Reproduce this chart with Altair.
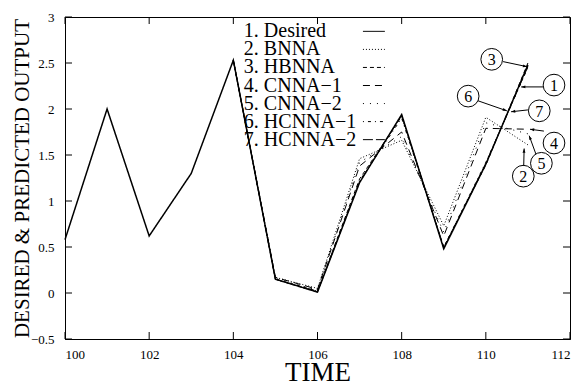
import altair as alt
import pandas as pd

FONT = "Liberation Serif"

time_all = list(range(100, 112))
desired = [0.58, 2.0, 0.62, 1.3, 2.53, 0.15, 0.01, 1.2, 1.94, 0.48, 1.4, 2.48]

time_pred = list(range(104, 112))
bnna = [2.53, 0.17, 0.05, 1.46, 1.66, 0.73, 1.91, 1.61]
hbnna = [2.53, 0.15, 0.02, 1.24, 1.92, 0.50, 1.39, 2.50]
cnna1 = [2.53, 0.17, 0.04, 1.38, 1.75, 0.62, 1.79, 1.78]
cnna2 = [2.53, 0.16, 0.03, 1.42, 1.70, 0.66, 1.85, 1.73]
hcnna1 = [2.53, 0.15, 0.02, 1.22, 1.90, 0.50, 1.42, 2.45]
hcnna2 = [2.53, 0.15, 0.01, 1.21, 1.93, 0.49, 1.41, 2.46]

series_names = ["1. Desired", "2. BNNA", "3. HBNNA", "4. CNNA\u22121",
                "5. CNNA\u22122", "6. HCNNA\u22121", "7. HCNNA\u22122"]
dash_patterns = [[1, 0], [1, 2], [4, 3], [7, 5], [1, 6], [1, 4, 3, 4], [10, 3]]

x_ticks = [100, 102, 104, 106, 108, 110, 112]
y_ticks = [-0.5, 0, 0.5, 1, 1.5, 2, 2.5, 3]

# circled annotation labels (data coordinates)
ann_ids = ["1", "2", "3", "4", "5", "6", "7"]
ann_x = [111.62, 110.89, 110.14, 111.62, 111.32, 109.58, 111.27]
ann_y = [2.26, 1.27, 2.54, 1.63, 1.41, 2.14, 1.98]
# arrows: start -> end (data coordinates), angle of arrowhead (degrees)
arr_x1 = [111.36, 110.90, 110.41, 111.38, 111.19, 109.81, 111.00]
arr_y1 = [2.24, 1.38, 2.515, 1.76, 1.51, 2.09, 1.99]
arr_x2 = [110.84, 110.91, 110.98, 111.05, 111.03, 110.50, 110.60]
arr_y2 = [2.24, 1.57, 2.46, 1.78, 1.71, 1.98, 1.97]
arr_angle = [269, 2, 102, 276, 339, 109, 263]

W, H = 505, 322
xs = alt.Scale(domain=[100, 112], nice=False, zero=False)
ys = alt.Scale(domain=[-0.5, 3], nice=False, zero=False)

pred_rows = []
for name, vals in zip(series_names[1:], [bnna, hbnna, cnna1, cnna2, hcnna1, hcnna2]):
    for t, v in zip(time_pred, vals):
        pred_rows.append({"time": t, "value": v, "series": name})
pred_df = pd.DataFrame(pred_rows)
des_df = pd.DataFrame({"time": time_all, "value": desired, "series": series_names[0]})

dash = alt.StrokeDash("series:N", scale=alt.Scale(domain=series_names, range=dash_patterns), legend=None)

xaxis = alt.Axis(values=x_ticks, ticks=False, grid=False, title="TIME", labelPadding=9,
                 labelFont=FONT, titleFont=FONT,
                 titleFontSize=27, titleY=41, titleBaseline="alphabetic", labelFontSize=13)
yaxis = alt.Axis(values=y_ticks, ticks=False, grid=False, format="~g",
                 labelFont=FONT, titleFont=FONT,
                 title="DESIRED & PREDICTED OUTPUT", labelPadding=11,
                 titleFontSize=21, titleX=-43, titleY=H / 2,
                 titleBaseline="middle", titleAlign="center", labelFontSize=13)

pred = alt.Chart(pred_df).mark_line(color="black", strokeWidth=1).encode(
    x=alt.X("time:Q", scale=xs, axis=xaxis),
    y=alt.Y("value:Q", scale=ys, axis=yaxis),
    strokeDash=dash,
    detail="series:N",
)
des = alt.Chart(des_df).mark_line(color="black", strokeWidth=1.5).encode(
    x=alt.X("time:Q", scale=xs), y=alt.Y("value:Q", scale=ys), strokeDash=dash
)

# inward ticks
xt = pd.DataFrame({"t": x_ticks})
yt = pd.DataFrame({"t": y_ticks})
tick_b = alt.Chart(xt).mark_rule(color="black").encode(
    x=alt.X("t:Q", scale=xs), y=alt.value(H), y2=alt.value(H - 7))
tick_t = alt.Chart(xt).mark_rule(color="black").encode(
    x=alt.X("t:Q", scale=xs), y=alt.value(0), y2=alt.value(7))
tick_l = alt.Chart(yt).mark_rule(color="black").encode(
    y=alt.Y("t:Q", scale=ys), x=alt.value(0), x2=alt.value(7))
tick_r = alt.Chart(yt).mark_rule(color="black").encode(
    y=alt.Y("t:Q", scale=ys), x=alt.value(W), x2=alt.value(W - 7))

# legend (inside plot)
leg_df = pd.DataFrame({"series": series_names, "idx": list(range(len(series_names)))})
leg_base = alt.Chart(leg_df).transform_calculate(
    ly="2.844 - 0.1962 * datum.idx", tx="104.25", sx1="107.08", sx2="107.6")
leg_text = leg_base.mark_text(align="left", baseline="middle", font=FONT, fontSize=20,
                              color="black").encode(
    x=alt.X("tx:Q", scale=xs), y=alt.Y("ly:Q", scale=ys), text="series:N")
leg_line = leg_base.mark_rule(color="black", strokeWidth=1).encode(
    x=alt.X("sx1:Q", scale=xs), x2="sx2:Q", y=alt.Y("ly:Q", scale=ys), strokeDash=dash)

# annotations
ann_df = pd.DataFrame({"id": ann_ids, "x": ann_x, "y": ann_y})
circ = alt.Chart(ann_df).mark_point(shape="circle", size=470, color="black",
                                    filled=False, strokeWidth=1, opacity=1).encode(
    x=alt.X("x:Q", scale=xs), y=alt.Y("y:Q", scale=ys))
circ_txt = alt.Chart(ann_df).mark_text(font=FONT, fontSize=16, color="black",
                                       baseline="middle", align="center", dy=1).encode(
    x=alt.X("x:Q", scale=xs), y=alt.Y("y:Q", scale=ys), text="id:N")
arr_df = pd.DataFrame({"x1": arr_x1, "y1": arr_y1, "x2": arr_x2, "y2": arr_y2, "ang": arr_angle})
arr_line = alt.Chart(arr_df).mark_rule(color="black", strokeWidth=1).encode(
    x=alt.X("x1:Q", scale=xs), y=alt.Y("y1:Q", scale=ys), x2="x2:Q", y2="y2:Q")
arr_head = alt.Chart(arr_df).mark_point(shape="M0,0L-0.35,1L0.35,1Z", size=70, filled=True,
                                        color="black", opacity=1).encode(
    x=alt.X("x2:Q", scale=xs), y=alt.Y("y2:Q", scale=ys),
    angle=alt.Angle("ang:Q", scale=None))

chart = alt.layer(
    pred, des, tick_b, tick_t, tick_l, tick_r, leg_text, leg_line,
    arr_line, arr_head, circ, circ_txt
).properties(
    width=W, height=H,
    background="white",
    padding={"left": 65, "top": 17, "right": 13, "bottom": 44},
    autosize=alt.AutoSizeParams(type="none"),
).configure_view(
    stroke="black", strokeWidth=1
).configure_axis(
    labelFont=FONT, titleFont=FONT, labelColor="black", titleColor="black",
    titleFontWeight="normal", domainColor="black", domainWidth=1
)

chart.save("out.html", embed_options={"renderer": "svg", "actions": False})
